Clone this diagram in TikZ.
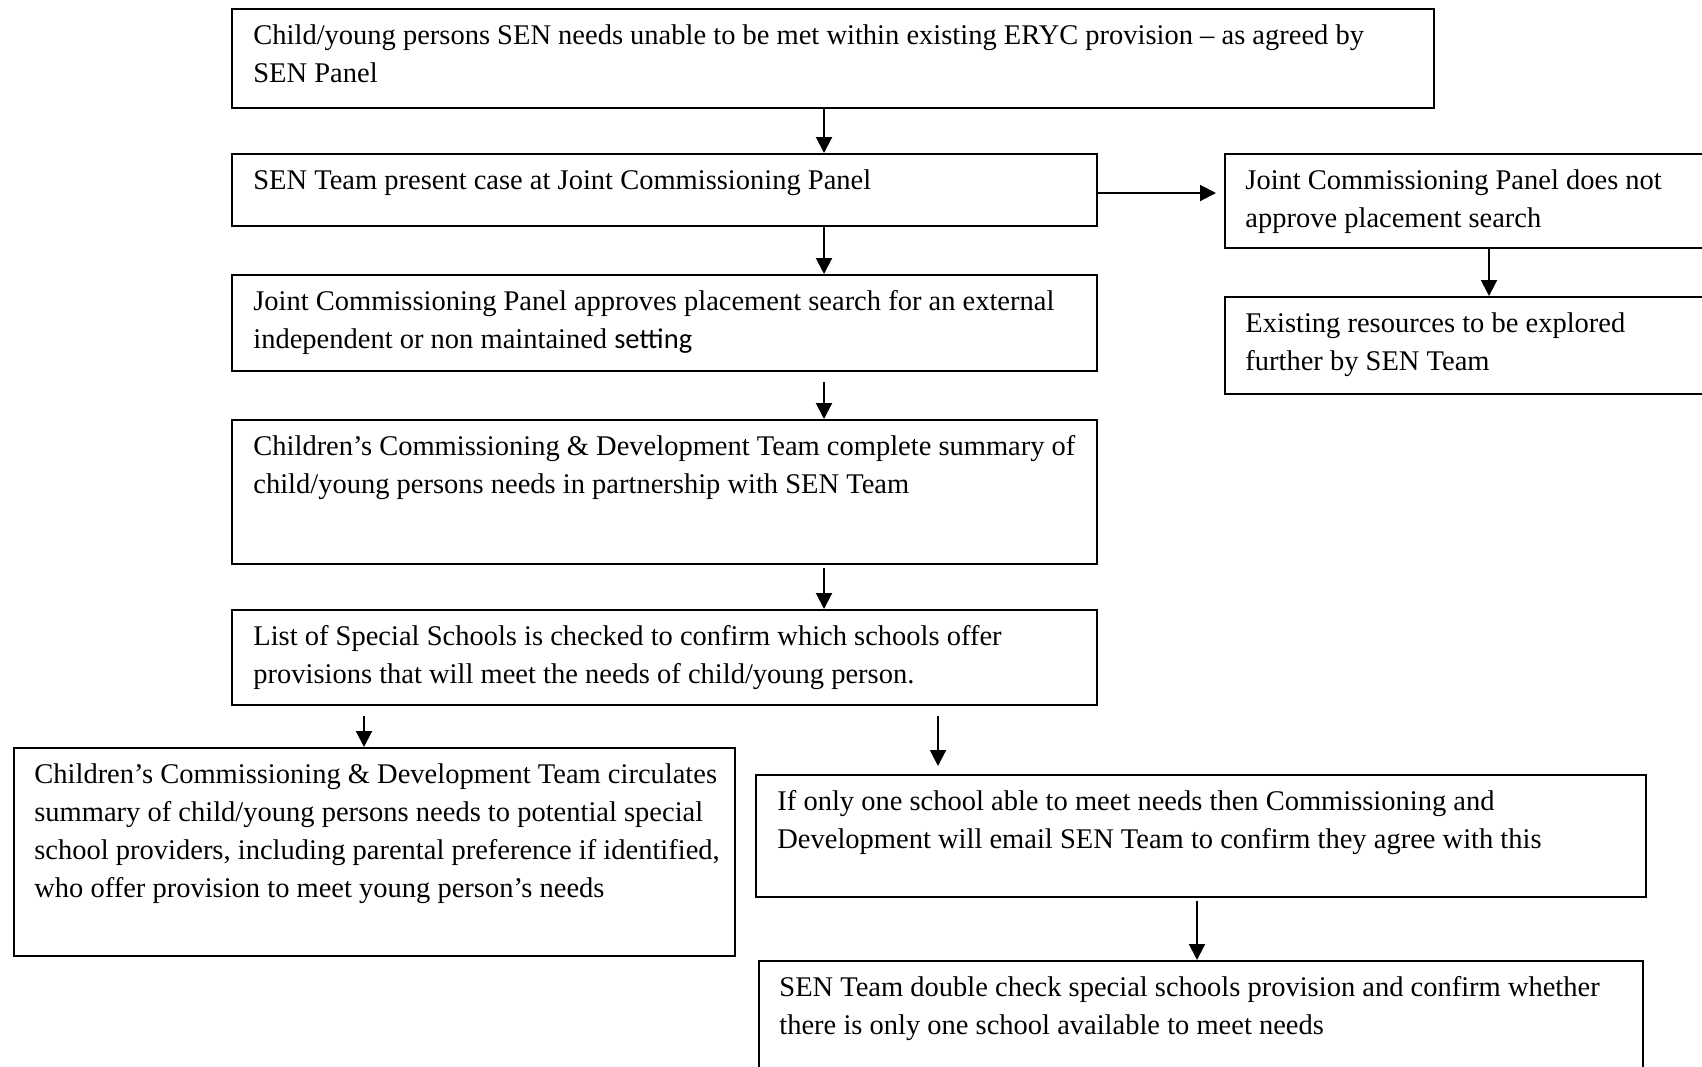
\documentclass[tikz,border=0pt]{standalone}
\usepackage{fontspec}
\setmainfont{Liberation Serif}
\newfontfamily\calibri{Carlito}
\usetikzlibrary{arrows.meta}
\begin{document}
\begin{tikzpicture}[x=0.5pt,y=-0.5pt,
  box/.style={draw, line width=1.1pt, inner sep=0, anchor=north west},
  txt/.style={anchor=north west, inner sep=0, align=left, font=\fontsize{14.25}{19}\selectfont},
  arr/.style={-{Triangle[length=8pt,width=8pt]}, line width=1pt}]
\useasboundingbox (0,0) rectangle (1702,1066);
\clip (0,0) rectangle (1702,1066);
% boxes
\node[box, minimum width=601pt, minimum height=49.5pt] (b1) at (231,8) {};
\node[box, minimum width=432.5pt, minimum height=36pt] (b2) at (231,153) {};
\node[box, minimum width=432.5pt, minimum height=48pt] (b3) at (231,274) {};
\node[box, minimum width=432.5pt, minimum height=72pt] (b4) at (231,419) {};
\node[box, minimum width=432.5pt, minimum height=47.5pt] (b5) at (231,609) {};
\node[box, minimum width=248pt, minimum height=47pt] (r1) at (1224,153) {};
\node[box, minimum width=248pt, minimum height=48.5pt] (r2) at (1224,296) {};
\node[box, minimum width=360.5pt, minimum height=104pt] (l1) at (13,747) {};
\node[box, minimum width=445pt, minimum height=61pt] (m1) at (755,774) {};
\node[box, minimum width=442pt, minimum height=60pt] (m2) at (758,960) {};
% texts
\node[txt] (t1) at (253,17) {\strut Child/young persons SEN needs unable to be met within existing ERYC provision -- as agreed by\\SEN Panel};
\node[txt] (t2) at (253,162) {\strut SEN Team present case at Joint Commissioning Panel};
\node[txt] (t3) at (253,283) {\strut Joint Commissioning Panel approves placement search for an external\\independent or non maintained {\calibri setting}};
\node[txt] (t4) at (253,428) {\strut Children’s Commissioning \& Development Team complete summary of\\child/young persons needs in partnership with SEN Team};
\node[txt] (t5) at (253,618) {\strut List of Special Schools is checked to confirm which schools offer\\provisions that will meet the needs of child/young person.};
\node[txt] (t6) at (1245,162) {\strut Joint Commissioning Panel does not\\approve placement search};
\node[txt] (t7) at (1245,305) {\strut Existing resources to be explored\\further by SEN Team};
\node[txt] (t8) at (34,756) {\strut Children’s Commissioning \& Development Team circulates\\summary of child/young persons needs to potential special\\school providers, including parental preference if identified,\\who offer provision to meet young person’s needs};
\node[txt] (t9) at (777,783) {\strut If only one school able to meet needs then Commissioning and\\Development will email SEN Team to confirm they agree with this};
\node[txt] (t10) at (779,969) {\strut SEN Team double check special schools provision and confirm whether\\there is only one school available to meet needs};
% connector guides
\coordinate (cx) at (824,0);
\coordinate (rx) at (1489,0);
\coordinate (lx) at (364,0);
\coordinate (mx) at (938,0);
\coordinate (nx) at (1197,0);
\coordinate (hy) at (0,193);
\draw[arr] (b1.south -| cx) -- (b2.north -| cx);
\draw[arr] (b2.south -| cx) -- (b3.north -| cx);
\draw[arr, shorten <=5pt] (b3.south -| cx) -- (b4.north -| cx);
\draw[arr, shorten <=1.5pt] (b4.south -| cx) -- (b5.north -| cx);
\draw[arr, shorten >=4pt] (b2.east |- hy) -- (r1.west |- hy);
\draw[arr] (r1.south -| rx) -- (r2.north -| rx);
\draw[arr, shorten <=5pt] (b5.south -| lx) -- (l1.north -| lx);
\draw[arr, shorten <=5pt, shorten >=4pt] (b5.south -| mx) -- (m1.north -| mx);
\draw[arr, shorten <=1.5pt] (m1.south -| nx) -- (m2.north -| nx);
\end{tikzpicture}
\end{document}
